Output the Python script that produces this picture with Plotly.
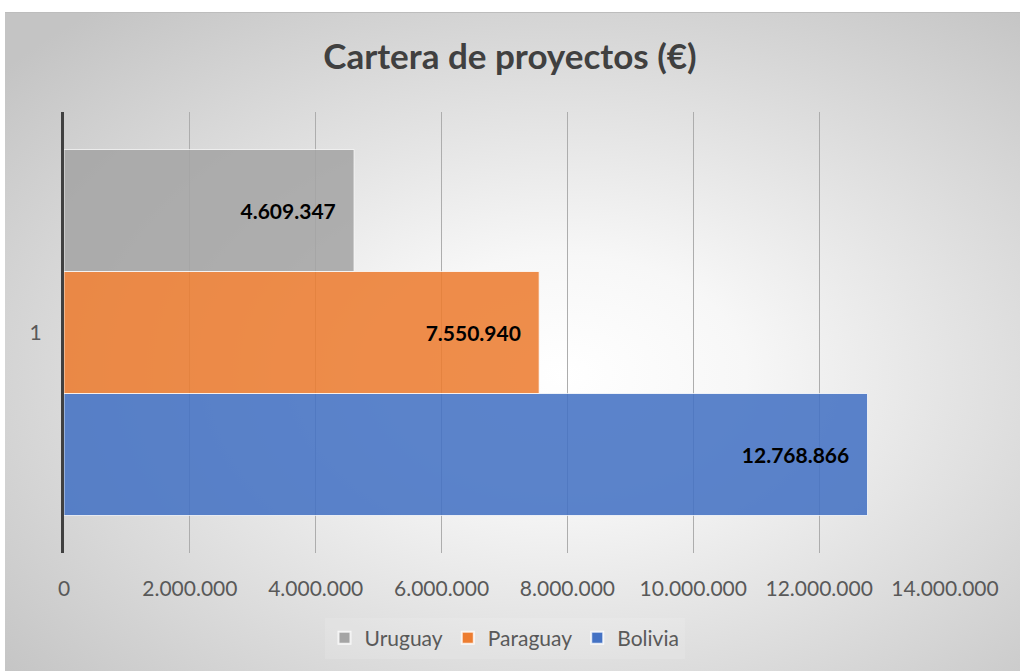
import base64
import plotly.graph_objects as go

categories = ["1"]
countries = ["Bolivia", "Paraguay", "Uruguay"]
values = [12768866, 7550940, 4609347]
colors = ["#4472c4", "#ed7d31", "#a5a5a5"]
x_ticks = [0, 2000000, 4000000, 6000000, 8000000, 10000000, 12000000, 14000000]

W, H = 1020, 671
L, R, T, B = 64, 75, 112, 118
pw, ph = W - L - R, H - T - B

svg = f'''<svg xmlns="http://www.w3.org/2000/svg" width="1015" height="659" viewBox="0 0 1015 659" preserveAspectRatio="none">
<defs><radialGradient id="g" cx="0.55" cy="0.55" r="0.72">
<stop offset="0" stop-color="#ffffff"/><stop offset="0.25" stop-color="#f7f7f7"/><stop offset="1" stop-color="#c4c4c4"/></radialGradient></defs>
<rect x="0" y="0" width="1015" height="659" fill="url(#g)"/>
<line x1="0" y1="0.5" x2="1015" y2="0.5" stroke="#bdbdbd" stroke-width="1"/>
</svg>'''
src = "data:image/svg+xml;base64," + base64.b64encode(svg.encode()).decode()

fig = go.Figure()
for c, v, col in zip(countries, values, colors):
    fig.add_trace(go.Bar(
        y=categories, x=[v], name=c, orientation="h",
        marker=dict(color=col, opacity=0.87, line=dict(color="rgba(255,255,255,0.8)", width=1)),
        texttemplate="%{x:,d}\u00a0\u00a0\u00a0", textposition="inside", insidetextanchor="end",
        textfont=dict(family="Lato", size=21, color="#000000", weight="bold"),
        cliponaxis=False,
    ))

fig.add_layout_image(dict(
    source=src, xref="paper", yref="paper",
    x=(5 - L) / pw, y=(H - B - 12) / ph, sizex=(W - 5) / pw, sizey=(H - 12) / ph,
    xanchor="left", yanchor="top", sizing="stretch", layer="below",
))

fig.update_layout(
    width=W, height=H,
    margin=dict(l=L, r=R, t=T, b=B, autoexpand=False),
    paper_bgcolor="#ffffff", plot_bgcolor="rgba(0,0,0,0)",
    separators=",.",
    barmode="group", bargap=0.17, bargroupgap=0,
    title=dict(text="<b>Cartera de proyectos (€)</b>", x=0.5, xanchor="center",
               y=1 - 57 / H, yanchor="middle",
               font=dict(family="Lato", size=35, color="#404040")),
    xaxis=dict(range=[0, 14000000], tickvals=x_ticks, tickformat=",d",
               showgrid=True, gridcolor="#adadad", gridwidth=1, zeroline=False,
               showline=False, ticks="outside", ticklen=17, tickcolor="rgba(0,0,0,0)",
               tickfont=dict(family="Lato", size=21, color="#595959")),
    yaxis=dict(type="category", range=[-0.5, 0.5], showline=True, linecolor="#404040",
               linewidth=3, showgrid=False, ticks="outside", ticklen=15,
               tickcolor="rgba(0,0,0,0)",
               tickfont=dict(family="Lato", size=21, color="#595959")),
    legend=dict(orientation="h", x=0.5, xanchor="center", y=-85 / ph, yanchor="middle",
                traceorder="reversed", bgcolor="rgba(255,255,255,0.12)",
                font=dict(family="Lato", size=21, color="#595959"),
                itemsizing="constant"),
    showlegend=True,
)

fig.write_html("out.html", config={"displayModeBar": False},
               post_script="document.body.style.margin='0';document.body.style.padding='0';")
